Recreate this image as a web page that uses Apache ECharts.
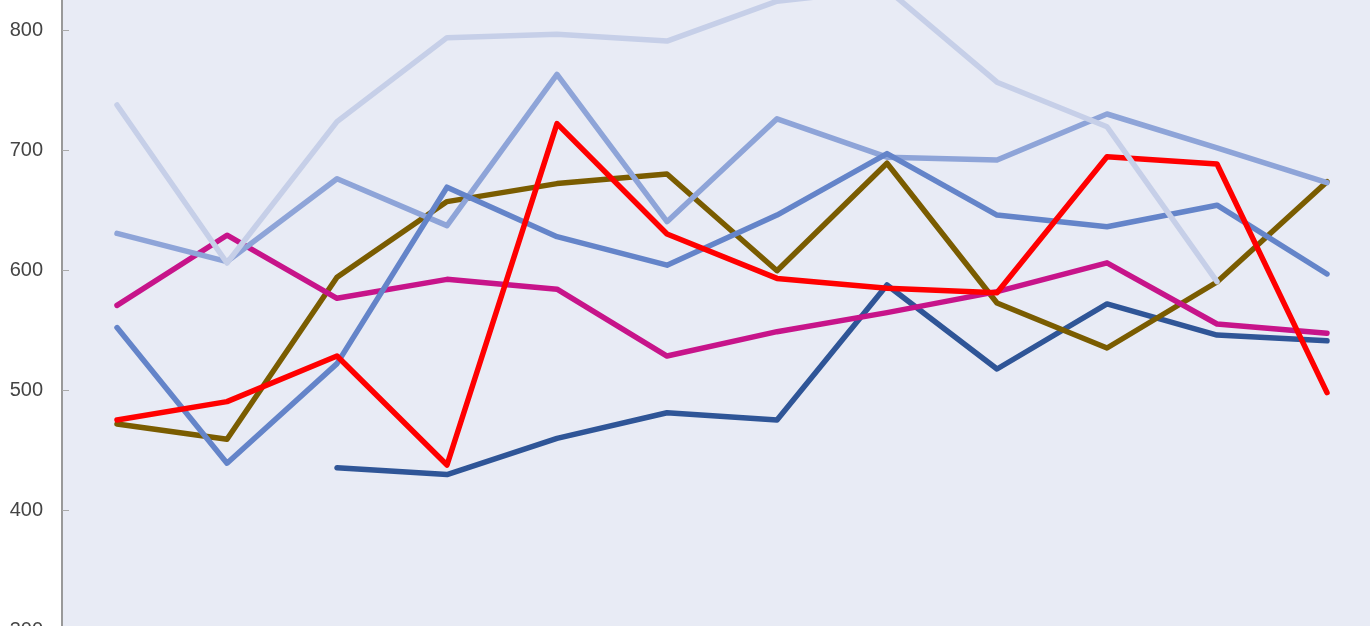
<!DOCTYPE html>
<html>
<head>
<meta charset="utf-8">
<script src="https://cdn.jsdelivr.net/npm/echarts@6/dist/echarts.min.js"></script>
<style>
html,body{margin:0;padding:0;background:#ffffff;}
#chart{width:1370px;height:626px;}
</style>
</head>
<body>
<div id="chart"></div>
<script>
var categories = ['1','2','3','4','5','6','7','8','9','10','11','12'];
var lightSeries   = [737.5, 605.8, 723.6, 793.6, 796.4, 790.8, 824, 834, 756.5, 719.4, 590.3, null];
var medLightSeries= [630.5, 607, 676, 637, 763, 640.3, 726, 694, 691.7, 730, 701.7, 672.8];
var blueSeries    = [552, 439, 522, 669, 627.8, 604, 645.8, 697, 645.8, 636, 654, 596.7];
var darkBlueSeries= [null, null, 435.3, 429.5, 459.7, 481, 475, 587.5, 517.5, 571.7, 545.8, 541];
var magentaSeries = [570.5, 629, 576.4, 592.2, 584, 528.3, 548.6, 564.5, 582, 606, 555, 547.2];
var redSeries     = [475, 490.3, 528.3, 437.5, 722, 630, 593, 584.7, 581, 694.4, 688.3, 497.8];
var oliveSeries   = [471.7, 459, 593.9, 657, 672, 680, 599.4, 689, 572.5, 535, 590, 673.6];

function mk(name, data, color, z) {
  return {
    name: name, type: 'line', data: data, z: z,
    symbol: 'none', smooth: false, connectNulls: false,
    lineStyle: { color: color, width: 5.5, cap: 'round', join: 'round' },
    itemStyle: { color: color }
  };
}

var chart = echarts.init(document.getElementById('chart'), null, {renderer: 'canvas'});
chart.setOption({
  animation: false,
  backgroundColor: '#ffffff',
  grid: {
    left: 62, top: 0, width: 1320, height: 630,
    outerBoundsMode: 'none', containLabel: false,
    show: true, backgroundColor: '#e8ebf5', borderWidth: 0
  },
  xAxis: {
    type: 'category', data: categories, boundaryGap: true, show: false
  },
  yAxis: {
    type: 'value', min: 300, max: 825, interval: 100,
    axisLine: { show: true, lineStyle: { color: '#999999', width: 2 } },
    axisTick: { show: true, inside: true, length: 7, lineStyle: { color: '#aaaaaa', width: 1 } },
    axisLabel: { showMaxLabel: false, color: '#444444', fontSize: 20, fontFamily: 'Liberation Sans', margin: 19 },
    splitLine: { show: false }
  },
  series: [
    mk('darkblue', darkBlueSeries, '#2f5597', 2),
    mk('olive', oliveSeries, '#7a5c00', 3),
    mk('magenta', magentaSeries, '#c7148a', 4),
    mk('medlight', medLightSeries, '#8ea4d8', 5),
    mk('blue', blueSeries, '#6484c9', 6),
    mk('red', redSeries, '#ff0000', 7),
    mk('light', lightSeries, '#c6cfe8', 8)
  ]
});
</script>
</body>
</html>
